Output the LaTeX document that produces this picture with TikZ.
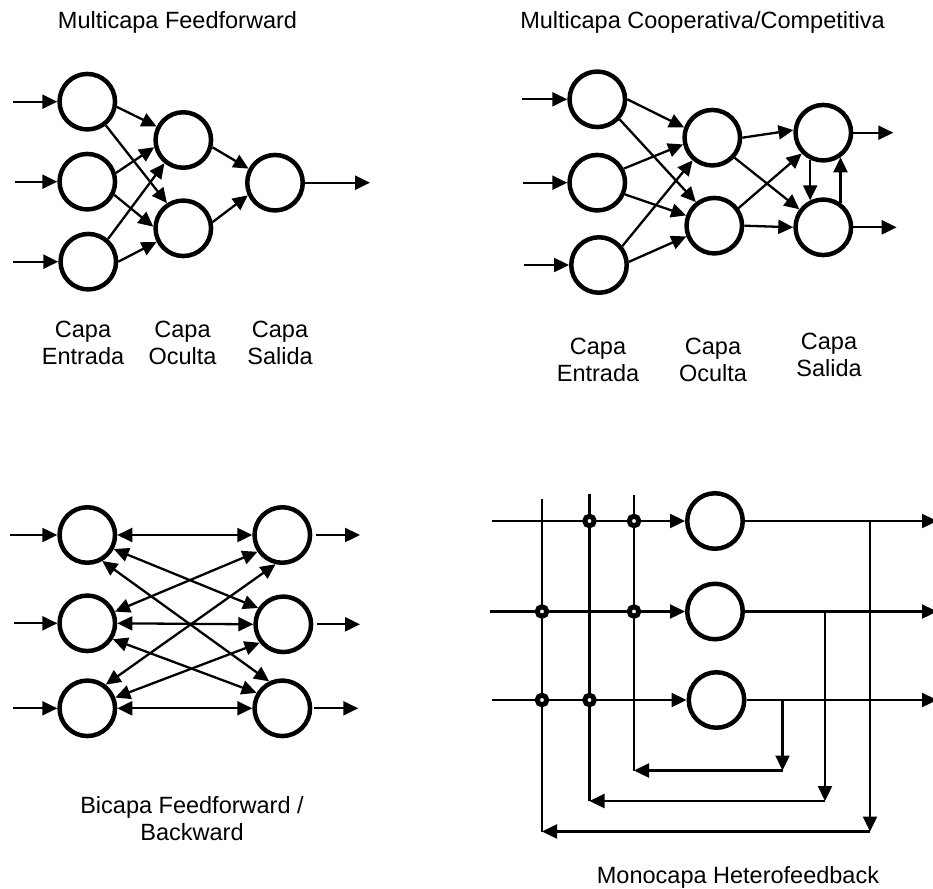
\documentclass[tikz,border=0pt]{standalone}
\usepackage{fontspec}
\setmainfont{Liberation Sans}
\usetikzlibrary{arrows.meta}
\begin{document}
\begin{tikzpicture}[x=1pt,y=-1pt,
  neuron/.style={circle, draw, line width=4.5pt, minimum size=55.5pt, inner sep=0pt},
  arr/.style={line width=2.3pt, -{Triangle[length=15pt,width=14pt]}},
  biarr/.style={line width=2.3pt, {Triangle[length=15pt,width=14pt]}-{Triangle[length=15pt,width=14pt]}},
  wire/.style={line width=2.2pt},
  junc/.style={circle, draw, fill=white, line width=5pt, minimum size=9.5pt, inner sep=0pt},
  lbl/.style={font=\fontsize{23.5}{27}\selectfont, align=center, anchor=north, inner sep=0pt},
]
\useasboundingbox (0,0) rectangle (933,888);

% ---------- Multicapa Feedforward ----------
\node[lbl] (title1) at (177.5,11.7) {Multicapa Feedforward};
\node[neuron] (i1) at (87.3,101.7) {};
\node[neuron] (i2) at (87.3,181.7) {};
\node[neuron] (i3) at (88.3,261.7) {};
\node[neuron] (h1) at (183.3,140) {};
\node[neuron] (h2) at (183.3,228.3) {};
\node[neuron] (o1) at (275,182.7) {};
\coordinate (in1) at (13.3,101.7);
\coordinate (in2) at (14.5,181.7);
\coordinate (in3) at (13.3,261.7);
\coordinate (out1) at (370,182.7);
\draw[arr] (in1) -- (i1);
\draw[arr] (in2) -- (i2);
\draw[arr] (in3) -- (i3);
\draw[arr] (i1.-10) -- (h1.153);
\draw[arr] (i1.-52) -- (h2.123);
\draw[arr] (i2.17) -- (h1.-166);
\draw[arr] (i2.-26) -- (h2.177);
\draw[arr] (i3.49) -- (h1.-129);
\draw[arr] (i3.0) -- (h2.-153);
\draw[arr] (h1.-14) -- (o1.152);
\draw[arr] (h2.12) -- (o1.-155);
\draw[arr] (o1) -- (out1);
\node[lbl] (capa1) at (83,321) {Capa\\Entrada};
\node[lbl] (capa2) at (182.5,321) {Capa\\Oculta};
\node[lbl] (capa3) at (280,321) {Capa\\Salida};

% ---------- Multicapa Cooperativa/Competitiva ----------
\node[lbl] (title2) at (702.5,11.7) {Multicapa Cooperativa/Competitiva};
\node[neuron] (a1) at (597.3,99.3) {};
\node[neuron] (a2) at (597.3,182.7) {};
\node[neuron] (a3) at (599,265) {};
\node[neuron] (b1) at (712.3,137.7) {};
\node[neuron] (b2) at (714.3,225.7) {};
\node[neuron] (c1) at (823.3,132.7) {};
\node[neuron] (c2) at (823.3,227.3) {};
\coordinate (ina1) at (521.7,99.3);
\coordinate (ina2) at (522.5,182.7);
\coordinate (ina3) at (524,265);
\coordinate (outc1) at (893.3,132.7);
\coordinate (outc2) at (896.7,227.3);
\draw[arr] (ina1) -- (a1);
\draw[arr] (ina2) -- (a2);
\draw[arr] (ina3) -- (a3);
\draw[arr] (a1.0) -- (b1.160);
\draw[arr] (a1.-42) -- (b2.128);
\draw[arr] (a2.28) -- (b1.-167);
\draw[arr] (a2.-23) -- (b2.160);
\draw[arr] (a3.39) -- (b1.-131);
\draw[arr] (a3.6) -- (b2.-159);
\draw[arr] (b1.0) -- (c1.175);
\draw[arr] (b1.-42) -- (c2.143);
\draw[arr] (b2.36) -- (c1.-136);
\draw[arr] (b2.0) -- (c2.180);
\draw[arr] (c1.-116) -- (c2.116);
\draw[arr] (c2.55) -- (c1.-55);
\draw[arr] (c1) -- (outc1);
\draw[arr] (c2) -- (outc2);
\node[lbl] (capa4) at (598,338) {Capa\\Entrada};
\node[lbl] (capa5) at (713,338) {Capa\\Oculta};
\node[lbl] (capa6) at (829,333) {Capa\\Salida};

% ---------- Bicapa Feedforward / Backward ----------
\node[neuron] (l1) at (87.3,535) {};
\node[neuron] (l2) at (87.3,623.3) {};
\node[neuron] (l3) at (87.3,708.3) {};
\node[neuron] (r1) at (282.3,535) {};
\node[neuron] (r2) at (283.3,624.3) {};
\node[neuron] (r3) at (282.3,708.3) {};
\coordinate (inl1) at (10,535);
\coordinate (inl2) at (14,623.3);
\coordinate (inl3) at (12.7,708.3);
\coordinate (outr1) at (360,535);
\coordinate (outr2) at (360,624.3);
\coordinate (outr3) at (358.3,708.3);
\draw[arr] (inl1) -- (l1);
\draw[arr] (inl2) -- (l2);
\draw[arr] (inl3) -- (l3);
\draw[biarr] (l1.0) -- (r1.180);
\draw[biarr] (l1.-28) -- (r2.147);
\draw[biarr] (l1.-60) -- (r3.116);
\draw[biarr] (l2.23) -- (r1.-146);
\draw[biarr] (l2.0) -- (r2.180);
\draw[biarr] (l2.-32) -- (r3.149);
\draw[biarr] (l3.52) -- (r1.-103);
\draw[biarr] (l3.21) -- (r2.-142);
\draw[biarr] (l3.0) -- (r3.180);
\draw[arr, shorten <=4pt] (r1) -- (outr1);
\draw[arr, shorten <=4pt] (r2) -- (outr2);
\draw[arr, shorten <=2pt] (r3) -- (outr3);
\node[lbl] (title3) at (192,796) {Bicapa Feedforward /\\Backward};

% ---------- Monocapa Heterofeedback ----------
\node[neuron] (n1) at (715,521) {};
\node[neuron] (n2) at (715,611.5) {};
\node[neuron] (n3) at (716.5,700) {};
% inputs and outputs of the layer
\coordinate (inn1) at (491.7,521);
\coordinate (inn2) at (490,611.5);
\coordinate (inn3) at (491.7,700);
\coordinate (outn1) at (937,521);
\coordinate (outn2) at (937,611.5);
\coordinate (outn3) at (937,700);
\draw[arr] (inn1) -- (n1);
\draw[arr] (inn2) -- (n2);
\draw[arr] (inn3) -- (n3);
\draw[arr] (n1) -- (outn1);
\draw[arr] (n2) -- (outn2);
\draw[arr] (n3) -- (outn3);
% feedback buses
\coordinate (v1top) at (542,499);
\coordinate (v1bot) at (542,831.5);
\coordinate (v2top) at (589.5,493.5);
\coordinate (v2bot) at (589.5,801);
\coordinate (v3top) at (634,495);
\coordinate (v3bot) at (634,770.5);
\coordinate (d1top) at (870,521);
\coordinate (d1bot) at (870,831.5);
\coordinate (d2top) at (825,611.5);
\coordinate (d2bot) at (825,801);
\coordinate (d3top) at (782.5,700);
\coordinate (d3bot) at (782.5,770.5);
\draw[wire] (v1top) -- (v1bot);
\draw[wire] (v2top) -- (v2bot);
\draw[wire] (v3top) -- (v3bot);
\draw[arr] (d1top) -- (d1bot);
\draw[arr] (d2top) -- (d2bot);
\draw[arr] (d3top) -- (d3bot);
\draw[arr] (d1bot) -- (v1bot);
\draw[arr] (d2bot) -- (v2bot);
\draw[arr] (d3bot) -- (v3bot);
% connection points
\node[junc] (j12) at (v2top |- n1) {};
\node[junc] (j13) at (v3top |- n1) {};
\node[junc] (j21) at (v1top |- n2) {};
\node[junc] (j23) at (v3top |- n2) {};
\node[junc] (j31) at (v1top |- n3) {};
\node[junc] (j32) at (v2top |- n3) {};
\node[lbl] (title4) at (738,866.7) {Monocapa Heterofeedback};
\end{tikzpicture}
\end{document}
